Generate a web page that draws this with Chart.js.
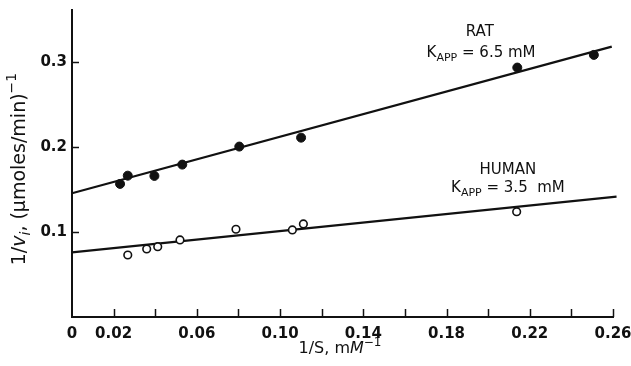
<!DOCTYPE html>
<html>
<head>
<meta charset="utf-8">
<script src="https://cdn.jsdelivr.net/npm/chart.js@4.4.1/dist/chart.umd.min.js"></script>
<style>
    html, body { margin: 0; padding: 0; background: #fff; }
    #wrap { width: 631px; height: 366px; position: relative; }
</style>
</head>
<body>
<div id="wrap"><canvas id="chart"></canvas></div>
<script>
// measured points, 1/S (mM^-1) against 1/vi
const ratX = [0.0231, 0.0268, 0.0396, 0.0530, 0.0804, 0.1101, 0.2140, 0.2508];
const ratY = [0.1565, 0.1662, 0.1659, 0.1792, 0.2004, 0.2109, 0.2933, 0.3082];
const humanX = [0.0268, 0.0359, 0.0412, 0.0519, 0.0788, 0.1059, 0.1112, 0.2137];
const humanY = [0.0729, 0.0800, 0.0827, 0.0906, 0.1032, 0.1024, 0.1094, 0.1239];

// fitted lines, read at both ends
const ratFitX = [0, 0.2594];
const ratFitY = [0.1455, 0.318];
const humanFitX = [0, 0.2617];
const humanFitY = [0.0761, 0.1415];

// axis ticks
const xTickValues = [0, 0.02, 0.04, 0.06, 0.08, 0.10, 0.12, 0.14, 0.16, 0.18, 0.20, 0.22, 0.24, 0.26];
const xTickLabels = ['0', '0.02', '', '0.06', '', '0.10', '', '0.14', '', '0.18', '', '0.22', '', '0.26'];
const yTickValues = [0.1, 0.2, 0.3];
const yTickLabels = ['0.1', '0.2', '0.3'];

const FONT = '"DejaVu Sans", Verdana, sans-serif';

function toPoints(xs, ys) {
    return xs.map((x, i) => ({ x: x, y: ys[i] }));
}

// draws a list of text pieces (italic / subscript / superscript) centred on x
function drawRuns(ctx, runs, x, y, size, weight) {
    const fontFor = r => {
        const s = (r.sub || r.sup) ? Math.round(size * 0.72) : size;
        return (r.it ? 'italic ' : '') + (weight || 'normal') + ' ' + s + 'px ' + FONT;
    };
    let total = 0;
    runs.forEach(r => {
        ctx.font = fontFor(r);
        total += ctx.measureText(r.t).width;
    });
    let cx = x - total / 2;
    ctx.textBaseline = 'middle';
    ctx.textAlign = 'left';
    runs.forEach(r => {
        ctx.font = fontFor(r);
        let dy = 0;
        if (r.sub) dy = size * 0.32;
        if (r.sup) dy = -size * 0.38;
        ctx.fillText(r.t, cx, y + dy);
        cx += ctx.measureText(r.t).width;
    });
}

// labels placed in data units
const notes = [
    { x: 0.1960, y: 0.3347, size: 15, runs: [{ t: 'RAT' }] },
    { x: 0.1966, y: 0.3106, size: 15, runs: [{ t: 'K' }, { t: 'APP', sub: true }, { t: ' = 6.5 mM' }] },
    { x: 0.2095, y: 0.1730, size: 15, runs: [{ t: 'HUMAN' }] },
    { x: 0.2095, y: 0.1518, size: 15, runs: [{ t: 'K' }, { t: 'APP', sub: true }, { t: ' = 3.5  mM' }] }
];

const extras = {
    id: 'extras',
    afterDraw(chart) {
        const ctx = chart.ctx;
        const xs = chart.scales.x;
        const ys = chart.scales.y;
        const area = chart.chartArea;
        ctx.save();
        ctx.strokeStyle = '#111';
        ctx.fillStyle = '#111';
        ctx.lineWidth = 1.5;
        // inward tick marks
        xTickValues.forEach(v => {
            if (v === 0) return;
            const px = Math.round(xs.getPixelForValue(v)) + 0.5;
            ctx.beginPath();
            ctx.moveTo(px, area.bottom);
            ctx.lineTo(px, area.bottom - 8);
            ctx.stroke();
        });
        yTickValues.forEach(v => {
            const py = Math.round(ys.getPixelForValue(v)) + 0.5;
            ctx.beginPath();
            ctx.moveTo(area.left, py);
            ctx.lineTo(area.left + 7, py);
            ctx.stroke();
        });
        notes.forEach(n => {
            drawRuns(ctx, n.runs, xs.getPixelForValue(n.x), ys.getPixelForValue(n.y), n.size);
        });
        // axis titles
        drawRuns(ctx, [{ t: '1/S, m' }, { t: 'M', it: true }, { t: '\u22121', sup: true }],
            340, 349, 16);
        ctx.translate(20, 169);
        ctx.rotate(-Math.PI / 2);
        drawRuns(ctx, [{ t: '1/' }, { t: 'v', it: true }, { t: 'i', it: true, sub: true },
            { t: ', (\u03bcmoles/min)' }, { t: '\u22121', sup: true }], 0, 0, 19);
        ctx.restore();
    }
};

new Chart(document.getElementById('chart').getContext('2d'), {
    type: 'scatter',
    data: {
        datasets: [{
            label: 'Rat',
            data: toPoints(ratX, ratY),
            backgroundColor: '#111',
            borderColor: '#111',
            borderWidth: 1,
            pointRadius: 4.5
        }, {
            label: 'Human',
            data: toPoints(humanX, humanY),
            backgroundColor: '#fff',
            borderColor: '#111',
            borderWidth: 1.6,
            pointRadius: 3.8
        }, {
            type: 'line',
            label: 'Rat fit',
            data: toPoints(ratFitX, ratFitY),
            borderColor: '#111',
            borderWidth: 2.2,
            pointRadius: 0,
            fill: false,
            clip: false
        }, {
            type: 'line',
            label: 'Human fit',
            data: toPoints(humanFitX, humanFitY),
            borderColor: '#111',
            borderWidth: 2.2,
            pointRadius: 0,
            fill: false,
            clip: false
        }]
    },
    options: {
        responsive: true,
        maintainAspectRatio: false,
        animation: false,
        layout: { padding: { left: 0, right: 18, top: 10, bottom: 0 } },
        plugins: {
            legend: { display: false },
            tooltip: { enabled: false }
        },
        scales: {
            x: {
                type: 'linear',
                min: 0,
                max: 0.26,
                afterBuildTicks: scale => { scale.ticks = xTickValues.map(v => ({ value: v })); },
                afterFit: scale => {
                    scale.height = 49;
                    scale.paddingLeft = 0;
                    scale.paddingRight = 0;
                },
                grid: { display: false, drawTicks: false },
                border: { display: true, color: '#111', width: 2 },
                ticks: {
                    color: '#111',
                    padding: 8,
                    maxRotation: 0,
                    autoSkip: false,
                    font: { family: FONT, size: 15, weight: 'bold' },
                    callback: (v, i) => xTickLabels[i]
                }
            },
            y: {
                type: 'linear',
                min: 0,
                max: 0.361,
                afterBuildTicks: scale => { scale.ticks = yTickValues.map(v => ({ value: v })); },
                afterFit: scale => {
                    scale.width = 72;
                    scale.paddingTop = 0;
                    scale.paddingBottom = 0;
                },
                grid: { display: false, drawTicks: false },
                border: { display: true, color: '#111', width: 2 },
                ticks: {
                    color: '#111',
                    padding: 5,
                    font: { family: FONT, size: 15, weight: 'bold' },
                    callback: (v, i) => yTickLabels[i]
                }
            }
        }
    },
    plugins: [extras]
});
</script>
</body>
</html>
